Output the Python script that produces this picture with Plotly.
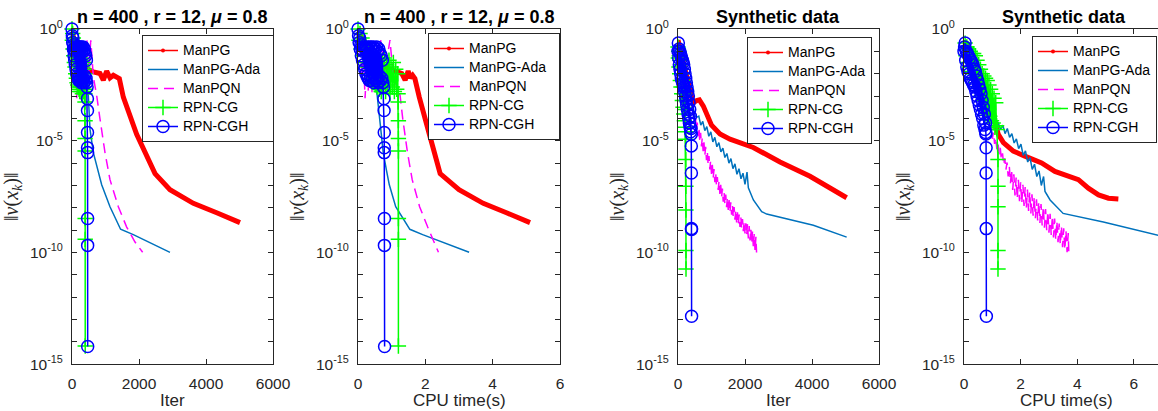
import plotly.graph_objects as go

W, H = 1158, 411

# ---- n = 400, r = 12, mu = 0.8 : log10 ||v(x_k)|| with iteration and cpu time ----
a_manpg_res = [-0.1, -0.8, -1.3, -1.6, -1.8, -1.92, -1.99, -2.29, -1.88, -2.19, -2.07, -2.22, -3.05, -4.71, -6.47, -7.19, -7.8, -8.22, -8.66]
a_manpg_iter = [0, 100, 200, 300, 450, 637, 836, 935, 1035, 1134, 1234, 1413, 1532, 1930, 2478, 2925, 3622, 4319, 5015]
a_manpg_time = [0, 0.25, 0.5, 0.7, 0.95, 1.15, 1.3, 1.40, 1.49, 1.55, 1.62, 1.69, 1.82, 2.12, 2.44, 3.0, 3.72, 4.41, 5.11]

a_ada_res = [-0.2, -0.7, -1.2, -1.9, -2.97, -4.48, -5.53, -6.36, -6.97, -7.95, -8.96, -9.2, -9.99]
a_ada_iter = [0, 100, 200, 350, 487, 537, 637, 786, 886, 1134, 1450, 1830, 2925]
a_ada_time = [0, 0.12, 0.25, 0.42, 0.57, 0.67, 0.75, 0.85, 0.93, 1.12, 1.54, 1.92, 3.30]

a_pqn_res = [-0.1, -1.2, -2.0, -1.3, -3.1, -1.6, -2.8, -1.5, -2.9, -1.7, -2.6, -1.8, -0.5, -1.9, -0.5, -2.14, -2.97, -4.03, -5.53, -6.74, -7.95, -8.86, -9.53, -9.99]
a_pqn_iter = [0, 40, 80, 110, 140, 170, 200, 240, 280, 320, 360, 400, 450, 500, 560, 637, 736, 836, 985, 1134, 1383, 1632, 1881, 2109]
a_pqn_time = [0, 0.06, 0.12, 0.165, 0.21, 0.255, 0.3, 0.36, 0.42, 0.48, 0.54, 0.6, 0.68, 0.8, 0.95, 1.05, 1.25, 1.33, 1.47, 1.61, 1.83, 2.07, 2.26, 2.39]

a_cg_res = [0.0, -0.5, -0.2, -0.9, -0.4, -1.2, -0.6, -1.5, -0.8, -1.7, -1.0, -2.0, -1.1, -2.2, -1.3, -2.4, -1.4, -2.5, -1.5, -2.6,
            -1.3, -2.7, -1.5, -2.8, -1.4, -2.6, -1.3, -2.8, -1.6, -2.5, -1.4, -2.9, -1.7, -2.6, -1.5, -2.8, -1.8, -2.7, -2.0,
            -2.9, -3.27, -4.1, -4.9, -5.46, -8.48, -9.41, -14.18]
a_cg_iter = [0, 10, 20, 30, 40, 50, 60, 70, 80, 90, 100, 110, 120, 130, 140, 150, 160, 170, 180, 190,
             200, 210, 220, 230, 240, 250, 260, 270, 280, 290, 300, 310, 320, 330, 340, 350, 360, 370, 380,
             385, 388, 390, 391, 392, 393, 394, 395]
a_cg_time = [0, 0.03, 0.06, 0.09, 0.12, 0.15, 0.18, 0.21, 0.24, 0.27, 0.3, 0.33, 0.36, 0.39, 0.42, 0.45, 0.48, 0.51, 0.54, 0.57,
             0.6, 0.63, 0.66, 0.69, 0.72, 0.75, 0.78, 0.82, 0.85, 0.88, 0.92, 0.95, 0.98, 1.02, 1.05, 1.08, 1.12, 1.15, 1.18,
             1.19, 1.195, 1.2, 1.2, 1.2, 1.2, 1.2, 1.2]

a_cgh_res = [0.0, -0.3, -0.6, -0.4, -0.9, -0.7, -1.2, -0.9, -1.4, -1.0, -1.6, -0.8, -1.8, -0.9, -2.0, -0.8, -2.1, -0.9, -2.2, -0.8,
             -2.3, -1.0, -2.1, -0.8, -2.3, -0.9, -2.2, -0.8, -2.4, -1.0, -2.2, -0.9, -2.3, -0.8, -2.2, -1.0, -2.4, -0.9, -2.1, -1.1,
             -2.3, -1.2, -2.2, -1.4, -2.4, -2.6, -3.12, -3.65, -4.63, -5.31, -5.53, -8.48, -9.68, -14.2]
a_cgh_iter = [0, 10, 20, 30, 40, 50, 60, 70, 80, 90, 100, 110, 120, 130, 140, 150, 160, 170, 180, 190,
              200, 210, 220, 230, 240, 250, 260, 270, 280, 290, 300, 310, 320, 330, 340, 350, 360, 370, 380, 390,
              400, 410, 420, 430, 440, 450, 460, 462, 463, 464, 465, 466, 467, 468]
a_cgh_time = [0, 0.017, 0.034, 0.05, 0.067, 0.084, 0.1, 0.118, 0.134, 0.15, 0.168, 0.185, 0.2, 0.218, 0.235, 0.252, 0.27, 0.286, 0.3, 0.32,
              0.336, 0.353, 0.37, 0.386, 0.4, 0.42, 0.437, 0.454, 0.47, 0.487, 0.504, 0.52, 0.538, 0.555, 0.57, 0.588, 0.605, 0.62, 0.638, 0.655,
              0.672, 0.69, 0.706, 0.722, 0.74, 0.756, 0.77, 0.775, 0.78, 0.78, 0.78, 0.785, 0.785, 0.79]

# ---- Synthetic data : Iter panel ----
b_manpg_iter = [0, 150, 300, 450, 557, 637, 756, 856, 1000, 1254, 1552, 2248, 3045, 3940, 4438, 5035]
b_manpg_res = [-0.5, -1.5, -2.5, -3.3, -3.2, -3.17, -3.45, -3.85, -4.3, -4.7, -4.93, -5.3, -5.95, -6.59, -7.0, -7.55]

b_ada_iter = [0, 150, 300, 450, 507, 557, 620, 680, 740, 800, 860, 920, 980, 1040, 1100, 1160, 1220, 1280, 1340, 1400,
              1460, 1520, 1580, 1640, 1700, 1760, 1820, 1880, 1940, 2000, 2060, 2100, 2149, 2250, 2498, 2647, 4040, 5035]
b_ada_res = [-0.6, -1.6, -2.6, -3.5, -3.88, -3.95, -3.9, -4.3, -4.13, -4.55, -4.37, -4.8, -4.6, -5.05, -4.85, -5.27, -5.08, -5.5, -5.33, -5.75,
             -5.57, -6.0, -5.8, -6.25, -6.03, -6.5, -6.25, -6.7, -6.45, -6.95, -6.4, -7.1, -7.27, -7.65, -8.17, -8.28, -8.78, -9.31]

b_pqn_iter = [0, 200, 400, 507,
              525, 550, 575, 600, 625, 650, 675, 700, 725, 750, 775, 800, 825, 850, 875, 900, 925, 950, 975, 1000,
              1025, 1050, 1075, 1100, 1125, 1150, 1175, 1200, 1225, 1250, 1275, 1300, 1325, 1350, 1375, 1400, 1425, 1450, 1475, 1500,
              1525, 1550, 1575, 1600, 1625, 1650, 1675, 1700, 1725, 1750, 1775, 1800, 1825, 1850, 1875, 1900, 1925, 1950, 1975, 2000,
              2025, 2050, 2075, 2100, 2125, 2150, 2175, 2200, 2225, 2250, 2275, 2300, 2325, 2345]
b_pqn_res = [-0.8, -2.0, -3.3, -4.18,
             -4.0, -4.58, -4.19, -4.8, -4.41, -5.03, -4.64, -5.25, -4.86, -5.47, -5.07, -5.67, -5.27, -5.87, -5.47, -6.08, -5.68, -6.28, -5.88, -6.48,
             -6.08, -6.68, -6.27, -6.85, -6.44, -7.03, -6.62, -7.2, -6.79, -7.38, -6.97, -7.55, -7.14, -7.73, -7.29, -7.85, -7.41, -7.97, -7.53, -8.09,
             -7.65, -8.2, -7.75, -8.31, -7.87, -8.42, -7.97, -8.53, -8.09, -8.65, -8.2, -8.75, -8.3, -8.85, -8.4, -8.95, -8.5, -9.05, -8.6, -9.15,
             -8.69, -9.23, -8.73, -9.37, -8.82, -9.46, -8.93, -9.6, -9.03, -9.8, -9.17, -9.93, -9.3, -10.0]

b_cg_iter = [0, 10, 20, 30, 40, 50, 60, 70, 80, 90, 100, 110, 120, 130, 140, 150, 160, 170, 180, 190, 200, 210, 220,
             228, 232, 235, 236, 237, 238, 239]
b_cg_res = [-0.8, -1.3, -1.0, -1.7, -1.2, -2.0, -1.4, -2.3, -1.6, -2.6, -1.8, -2.9, -2.0, -3.2, -2.3, -3.5, -2.6, -3.8, -2.9, -4.1, -3.2, -4.4, -3.6,
            -4.6, -4.93, -5.84, -7.04, -8.1, -9.91, -10.74]

b_cgh_iter = [0, 10, 20, 30, 40, 50, 60, 70, 80, 90, 100, 110, 120, 130, 140, 150, 160, 170, 180, 190,
              200, 210, 220, 230, 240, 250, 260, 270, 280, 290, 300, 310, 320, 330, 340, 350, 360, 370, 380, 390,
              395, 398, 400, 402, 404, 406]
b_cgh_res = [-1.0, -0.63, -1.3, -0.9, -1.6, -1.0, -1.8, -1.1, -2.0, -1.2, -2.2, -1.3, -2.3, -1.4, -2.4, -1.5, -2.5, -1.6, -2.6, -1.8,
             -2.8, -2.0, -3.0, -2.2, -3.2, -2.4, -3.4, -2.6, -3.6, -2.8, -3.8, -3.0, -4.0, -3.3, -4.2, -3.6, -4.4, -3.9, -4.6, -4.45,
             -4.71, -5.23, -6.44, -8.93, -8.97, -12.85]

# ---- Synthetic data : CPU time panel ----
b_manpg_time = [0, 0.2, 0.45, 0.7, 0.9, 1.05, 1.21, 1.39, 1.74, 2.15, 2.74, 3.21, 3.68, 4.04, 4.39, 4.75, 5.1, 5.45]
b_manpg_res_t = [-0.5, -1.5, -2.5, -3.27, -3.17, -3.9, -4.71, -5.08, -5.46, -5.69, -5.99, -6.37, -6.59, -6.74, -7.12, -7.42, -7.57, -7.6]

b_ada_time = [0, 0.3, 0.6, 0.9, 1.1, 1.21, 1.29, 1.37, 1.45, 1.53, 1.61, 1.69, 1.77, 1.85, 1.93, 2.01, 2.09, 2.17, 2.25, 2.33, 2.41,
              2.49, 2.57, 2.65, 2.73, 2.81, 2.86, 3.04, 3.5, 4.92, 6.85, 7.0]
b_ada_res_t = [-0.6, -1.8, -2.8, -3.6, -4.1, -4.2, -4.5, -4.3, -4.68, -4.45, -4.85, -4.68, -5.1, -4.92, -5.35, -5.15, -5.65, -5.45, -5.95, -5.75, -6.28,
               -6.05, -6.6, -6.35, -7.0, -6.6, -7.27, -7.65, -8.25, -8.63, -9.23, -9.27]

b_pqn_time = [0, 0.3, 0.6, 0.92,
              0.96, 1.00, 1.04, 1.08, 1.12, 1.16, 1.20, 1.24, 1.28, 1.32, 1.36, 1.40, 1.44, 1.48, 1.52, 1.56, 1.60, 1.64, 1.68, 1.72,
              1.76, 1.80, 1.84, 1.88, 1.92, 1.96, 2.00, 2.04, 2.08, 2.12, 2.16, 2.20, 2.24, 2.28, 2.32, 2.36, 2.40, 2.44, 2.48, 2.52,
              2.56, 2.60, 2.64, 2.68, 2.72, 2.76, 2.80, 2.84, 2.88, 2.92, 2.96, 3.00, 3.04, 3.08, 3.12, 3.16, 3.20, 3.24, 3.28, 3.32,
              3.36, 3.40, 3.44, 3.48, 3.52, 3.56, 3.60, 3.64, 3.68, 3.70]
b_pqn_res_t = [-0.8, -2.0, -3.3, -4.48,
               -4.4, -4.91, -4.63, -5.14, -4.86, -5.38, -5.09, -5.61, -5.32, -5.84, -5.56, -6.07, -5.79, -6.3, -5.97, -6.6, -6.15, -6.9, -6.3, -7.2,
               -6.5, -7.45, -6.65, -7.6, -6.75, -7.7, -6.86, -7.81, -6.97, -7.92, -7.07, -8.03, -7.18, -8.14, -7.29, -8.25, -7.4, -8.35, -7.51, -8.46,
               -7.62, -8.57, -7.72, -8.68, -7.83, -8.79, -7.94, -8.89, -8.05, -9.0, -8.16, -9.11, -8.27, -9.22, -8.37, -9.33, -8.48, -9.44, -8.59, -9.54,
               -8.7, -9.65, -8.81, -9.76, -8.91, -9.87, -9.02, -9.98, -9.13, -10.0]

b_cg_time = [0.04, 0.07, 0.10, 0.13, 0.16, 0.19, 0.22, 0.25, 0.28, 0.31, 0.34, 0.37, 0.40, 0.43, 0.46, 0.49, 0.52, 0.55, 0.58, 0.61,
             0.64, 0.67, 0.70, 0.73, 0.76, 0.79, 0.82, 0.85, 0.88, 0.91, 0.94, 0.97, 1.00, 1.03, 1.06, 1.09, 1.12, 1.15, 1.18,
             1.2, 1.2, 1.2, 1.2, 1.2]
b_cg_res_t = [-0.63, -1.2, -0.8, -1.5, -0.9, -1.7, -1.0, -1.9, -1.1, -2.0, -1.1, -2.2, -1.2, -2.4, -1.4, -2.6, -1.6, -2.8, -1.8, -3.0,
              -2.0, -3.2, -2.1, -3.4, -2.2, -3.6, -2.3, -3.8, -2.5, -3.9, -2.7, -4.1, -2.9, -4.2, -3.1, -4.4, -3.3, -4.33, -4.5,
              -5.84, -7.04, -7.95, -9.91, -10.74]

b_cgh_time = [0.0, 0.02, 0.04, 0.06, 0.08, 0.10, 0.12, 0.14, 0.16, 0.18, 0.20, 0.22, 0.24, 0.26, 0.28, 0.30, 0.32, 0.34, 0.36, 0.38,
              0.40, 0.42, 0.44, 0.46, 0.48, 0.50, 0.52, 0.54, 0.56, 0.58, 0.60, 0.62, 0.64, 0.66, 0.68, 0.70, 0.72, 0.74, 0.76,
              0.77, 0.775, 0.78, 0.78, 0.785, 0.79]
b_cgh_res_t = [-1.0, -0.8, -0.63, -1.4, -1.0, -1.7, -1.1, -1.9, -1.2, -2.0, -1.3, -2.2, -1.4, -2.3, -1.5, -2.4, -1.6, -2.5, -1.8, -2.6,
               -1.9, -2.8, -2.1, -3.0, -2.3, -3.2, -2.5, -3.4, -2.7, -3.6, -2.9, -3.8, -3.2, -4.0, -3.5, -4.3, -3.8, -4.5, -4.2,
               -4.63, -4.7, -5.31, -6.44, -8.93, -12.85]

names = ["ManPG", "ManPG-Ada", "ManPQN", "RPN-CG", "RPN-CGH"]
titles = ["n = 400 , r = 12, <i>μ</i> = 0.8", "n = 400 , r = 12, <i>μ</i> = 0.8", "Synthetic data", "Synthetic data"]
xlabels = ["Iter", "CPU time(s)", "Iter", "CPU time(s)"]

RED = "#FF0000"
ADA = "#0072BD"
MAG = "#FF00FF"
GRN = "#00FF00"
BLU = "#0000FF"
AX = "#262626"
FONT = "Liberation Sans"

# pixel boxes of the four axes
x_px = [(72, 273), (358, 560), (678, 879), (964, 1158)]
x_ranges = [[0, 6000], [0, 6], [0, 6000], [0, 6.85]]
x_ticks = [[0, 2000, 4000, 6000], [0, 2, 4, 6], [0, 2000, 4000, 6000], [0, 2, 4, 6]]
y_top, y_bot = 29, 364.3
legend_box = [(274, 35), (560, 33), (872, 37), (1157, 36)]
legend_pad = ["&nbsp;&nbsp;", "&nbsp;&nbsp;", "", ""]

panels = [
    [(a_manpg_iter, a_manpg_res), (a_ada_iter, a_ada_res), (a_pqn_iter, a_pqn_res), (a_cg_iter, a_cg_res), (a_cgh_iter, a_cgh_res)],
    [(a_manpg_time, a_manpg_res), (a_ada_time, a_ada_res), (a_pqn_time, a_pqn_res), (a_cg_time, a_cg_res), (a_cgh_time, a_cgh_res)],
    [(b_manpg_iter, b_manpg_res), (b_ada_iter, b_ada_res), (b_pqn_iter, b_pqn_res), (b_cg_iter, b_cg_res), (b_cgh_iter, b_cgh_res)],
    [(b_manpg_time, b_manpg_res_t), (b_ada_time, b_ada_res_t), (b_pqn_time, b_pqn_res_t), (b_cg_time, b_cg_res_t), (b_cgh_time, b_cgh_res_t)],
]

cross = dict(symbol="cross-thin", size=11, color=GRN, line=dict(color=GRN, width=1.5))
circ = dict(symbol="circle-open", size=12, color=BLU, line=dict(color=BLU, width=1.5))
DASH = "10px,6px"

fig = go.Figure()
layout = dict(width=W, height=H, autosize=False, margin=dict(l=0, r=0, t=0, b=0, pad=0, autoexpand=False),
              paper_bgcolor="white", plot_bgcolor="white", showlegend=True)
annotations = []

ytv = [10.0 ** (-k) for k in range(16)]
ytt = ["10<sup>%d</sup>" % (-k) if k % 5 == 0 else "" for k in range(16)]
ytt[0] = "10<sup>0</sup>"

for i, series in enumerate(panels):
    k = i + 1
    xa = "x" if k == 1 else "x%d" % k
    ya = "y" if k == 1 else "y%d" % k
    lg = "legend" if k == 1 else "legend%d" % k

    styles = [
        dict(mode="lines", line=dict(color=RED, width=5)),
        dict(mode="lines", line=dict(color=ADA, width=1.5)),
        dict(mode="lines", line=dict(color=MAG, width=1.5, dash=DASH)),
        dict(mode="lines+markers", line=dict(color=GRN, width=1.5), marker=cross, cliponaxis=False),
        dict(mode="lines+markers", line=dict(color=BLU, width=1.5), marker=circ, cliponaxis=False),
    ]
    for (xs, logs), st in zip(series, styles):
        fig.add_trace(go.Scatter(x=xs, y=[10 ** v for v in logs], xaxis=xa, yaxis=ya,
                                 showlegend=False, hoverinfo="skip", **st))

    leg_styles = [
        dict(mode="lines+markers", line=dict(color=RED, width=1.5), marker=dict(color=RED, size=4)),
        dict(mode="lines", line=dict(color=ADA, width=1.5)),
        dict(mode="lines", line=dict(color=MAG, width=1.5, dash=DASH)),
        dict(mode="lines+markers", line=dict(color=GRN, width=1.5), marker=cross),
        dict(mode="lines+markers", line=dict(color=BLU, width=1.5), marker=circ),
    ]
    for j, (name, st) in enumerate(zip(names, leg_styles)):
        label = '<span style="font-size:14px">%s</span>' % name
        if j == 1:
            label = '<span style="font-size:14px">%s%s</span>' % (name, legend_pad[i])
        fig.add_trace(go.Scatter(x=[None], y=[None], name=label, xaxis=xa, yaxis=ya, legend=lg, **st))

    x0, x1 = x_px[i]
    axis_common = dict(showline=True, linecolor=AX, linewidth=1, ticks="inside", ticklen=5,
                       tickcolor=AX, showgrid=False, zeroline=False, automargin=False,
                       tickfont=dict(family=FONT, size=15.5, color=AX))
    layout["xaxis" if k == 1 else "xaxis%d" % k] = dict(
        domain=[x0 / W, x1 / W], range=x_ranges[i], tickvals=x_ticks[i], anchor=ya,
        mirror="ticks", ticklabelstandoff=5, **axis_common)
    layout["yaxis" if k == 1 else "yaxis%d" % k] = dict(
        domain=[1 - y_bot / H, 1 - y_top / H], type="log", range=[-15, 0], tickvals=ytv, ticktext=ytt,
        anchor=xa, mirror="ticks" if k < 4 else False, ticklabelstandoff=5, **axis_common)

    lx, ly = legend_box[i]
    layout[lg] = dict(x=lx / W, y=1 - ly / H, xanchor="right", yanchor="top", bgcolor="white",
                      bordercolor=AX, borderwidth=1, font=dict(family=FONT, size=11.3, color="black"),
                      tracegroupgap=0, itemwidth=30)

    cx = (x0 + x1) / 2 if k < 4 else 1064
    annotations.append(dict(text="<b>%s</b>" % titles[i], x=cx / W, y=1 - 17 / H, xref="paper", yref="paper",
                            showarrow=False, xanchor="center", yanchor="middle",
                            font=dict(family=FONT, size=18, color="black")))
    annotations.append(dict(text=xlabels[i], x=(cx if k < 4 else 1066) / W, y=1 - 400 / H, xref="paper", yref="paper",
                            showarrow=False, xanchor="center", yanchor="middle",
                            font=dict(family=FONT, size=17, color=AX)))
    annotations.append(dict(text="‖<i>v</i>(<i>x<sub>k</sub></i>)‖", x=(x0 - 60) / W, y=1 - 197 / H,
                            xref="paper", yref="paper", showarrow=False, textangle=-90,
                            xanchor="center", yanchor="middle",
                            font=dict(family="Liberation Serif", size=20, color=AX)))

layout["annotations"] = annotations
fig.update_layout(**layout)
fig.write_html("out.html", config={"displayModeBar": False},
               post_script="document.body.style.margin='0px';")
